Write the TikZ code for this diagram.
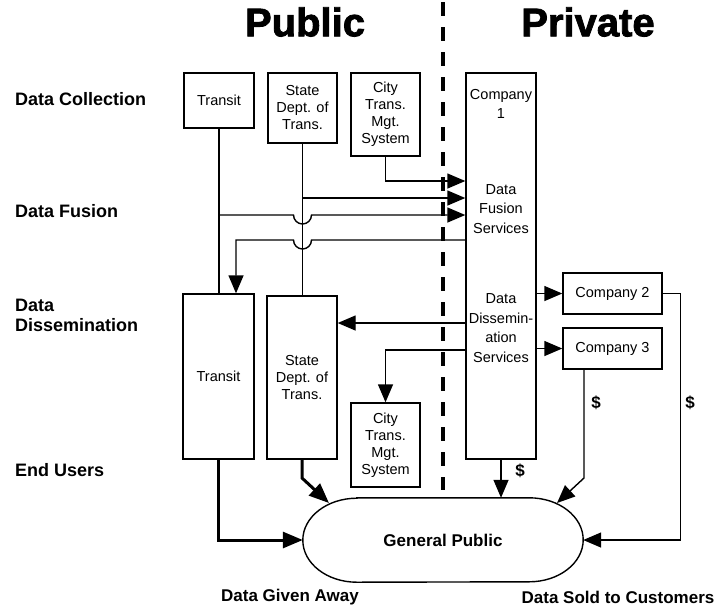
\documentclass[tikz,border=0pt]{standalone}
\usepackage{fontspec}
\setmainfont{Liberation Sans}
\usetikzlibrary{arrows.meta,calc}
\begin{document}
\begin{tikzpicture}[x=1pt,y=-1pt,
  box/.style={draw, line width=1.4pt, inner sep=1pt, align=center, font=\fontsize{14.5}{17}\selectfont},
  ctext/.style={align=center, inner sep=0pt, font=\fontsize{14.5}{19.5}\selectfont},
  lab/.style={font=\bfseries\fontsize{17}{20}\selectfont, align=left, inner sep=0pt},
  rowlab/.style={font=\bfseries\fontsize{18}{20}\selectfont, align=left, inner sep=0pt},
  title/.style={font=\fontsize{40}{44}\selectfont\bfseries\addfontfeature{FakeBold=2}, inner sep=0pt},
  ln/.style={line width=1.4pt},
  arr/.style={line width=1.4pt, -{Triangle[length=18pt,width=15pt]}},
  tharr/.style={line width=3pt, -{Triangle[length=20pt,width=16pt]}},
  divider/.style={line width=3.5pt, dash pattern=on 14pt off 11pt}]
\useasboundingbox (0,0) rectangle (722,611);

% titles
\node[title] (tpub) at (305,22) {Public};
\node[title] (tpriv) at (588,22) {Private};
\coordinate (dtop) at (443,2);
\coordinate (dbot) at (443,490);
\draw[divider] (dtop) -- (dbot);

% row labels
\node[rowlab, anchor=west] (l1) at (15,99) {Data Collection};
\node[rowlab, anchor=west] (l2) at (15,211) {Data Fusion};
\node[rowlab, anchor=west] (l3) at (15,315) {Data\\Dissemination};
\node[rowlab, anchor=west] (l4) at (15,470) {End Users};

% helper levels
\coordinate (h181) at (0,181);
\coordinate (h198) at (0,198);
\coordinate (h215) at (0,215);
\coordinate (h240) at (0,240);
\coordinate (h323) at (0,323);
\coordinate (h350) at (0,350);
\coordinate (h478) at (0,478);

% boxes
\node[box, minimum width=70pt, minimum height=55pt] (transitA) at (219,100.5) {Transit};
\node[box, minimum width=69pt, minimum height=70pt] (stateA) at (302.5,108) {State\\Dept. of\\Trans.};
\node[box, minimum width=69pt, minimum height=83pt] (cityA) at (385.5,114.5) {City\\Trans.\\Mgt.\\System};
\node[draw, line width=1.4pt, minimum width=70pt, minimum height=386pt] (co1) at (501,266) {};
\node[ctext] (co1a) at (501,104) {Company\\1};
\node[ctext] (co1b) at (501,209) {Data\\Fusion\\Services};
\node[ctext] (co1c) at (501,328) {Data\\Dissemin-\\ation\\Services};

\node[box, minimum width=71pt, minimum height=165pt] (transitB) at (218.5,376.5) {Transit};
\node[box, minimum width=70pt, minimum height=163pt] (stateB) at (302,377.5) {State\\Dept. of\\Trans.};
\node[box, minimum width=69pt, minimum height=84pt] (cityB) at (385.5,445) {City\\Trans.\\Mgt.\\System};
\node[box, minimum width=99pt, minimum height=41pt] (co2) at (612.5,293.5) {Company 2};
\node[box, minimum width=99pt, minimum height=41pt] (co3) at (612.5,348.5) {Company 3};

% general public (stadium with elliptic ends)
\node[minimum width=280pt, minimum height=84pt, font=\bfseries\fontsize{17}{20}\selectfont] (gp) at (443,540) {General Public};
\draw[line width=1.4pt] ($(gp.north west)+(54,0)$) -- ($(gp.north east)+(-54,0)$)
   arc(90:-90:54pt and 42pt) -- ($(gp.south west)+(54,0)$) arc(270:90:54pt and 42pt) -- cycle;
\coordinate (gpL) at ($(gp.center)+(-114,-37)$);
\coordinate (gpR) at ($(gp.center)+(114,-37)$);

% fusion inputs
\draw[arr] (cityA.south) |- (co1.west |- h181);
\draw[ln] (stateA.south) -- (stateA.south |- stateB.north);
\draw[arr] (stateA.south |- h198) -- (co1.west |- h198);
\draw[ln] (transitA.south) -- (transitA.south |- transitB.north);
\draw[arr] (transitA.south |- h215) -- ($(stateA.south |- h215)+(-9,0)$) arc(180:360:9pt) -- (co1.west |- h215);

% dissemination outputs
\coordinate (tBin) at ($(transitB.north)+(17.5,0)$);
\draw[arr] (co1.west |- h240) -- ($(stateA.south |- h240)+(9,0)$) arc(0:-180:9pt) -- (tBin |- h240) -- (tBin);
\draw[arr] (co1.west |- h323) -- (stateB.east |- h323);
\draw[arr] (co1.west |- h350) -| (cityB.north);
\draw[arr] (co1.east |- co2.west) -- (co2.west);
\draw[arr] (co1.east |- co3.west) -- (co3.west);

% end users
\draw[tharr] (transitB.south) |- (gp.west);
\draw[tharr] (stateB.south) -- (stateB.south |- h478) -- (gpL);
\draw[arr] (co1.south) -- (co1.south |- gp.north);
\coordinate (c3o) at ($(co3.south)+(-28.5,0)$);
\draw[arr] (c3o) -- (c3o |- h478) -- (gpR);
\draw[arr] (co2.east) -- ++(18,0) |- (gp.east);

% money labels
\node[lab] (d1) at (520,471) {\$};
\node[lab] (d2) at (596,403) {\$};
\node[lab] (d3) at (690,403) {\$};

% bottom captions
\node[lab] (b1) at (290,597) {Data Given Away};
\node[lab] (b2) at (618,597) {Data Sold to Customers};
\end{tikzpicture}
\end{document}
